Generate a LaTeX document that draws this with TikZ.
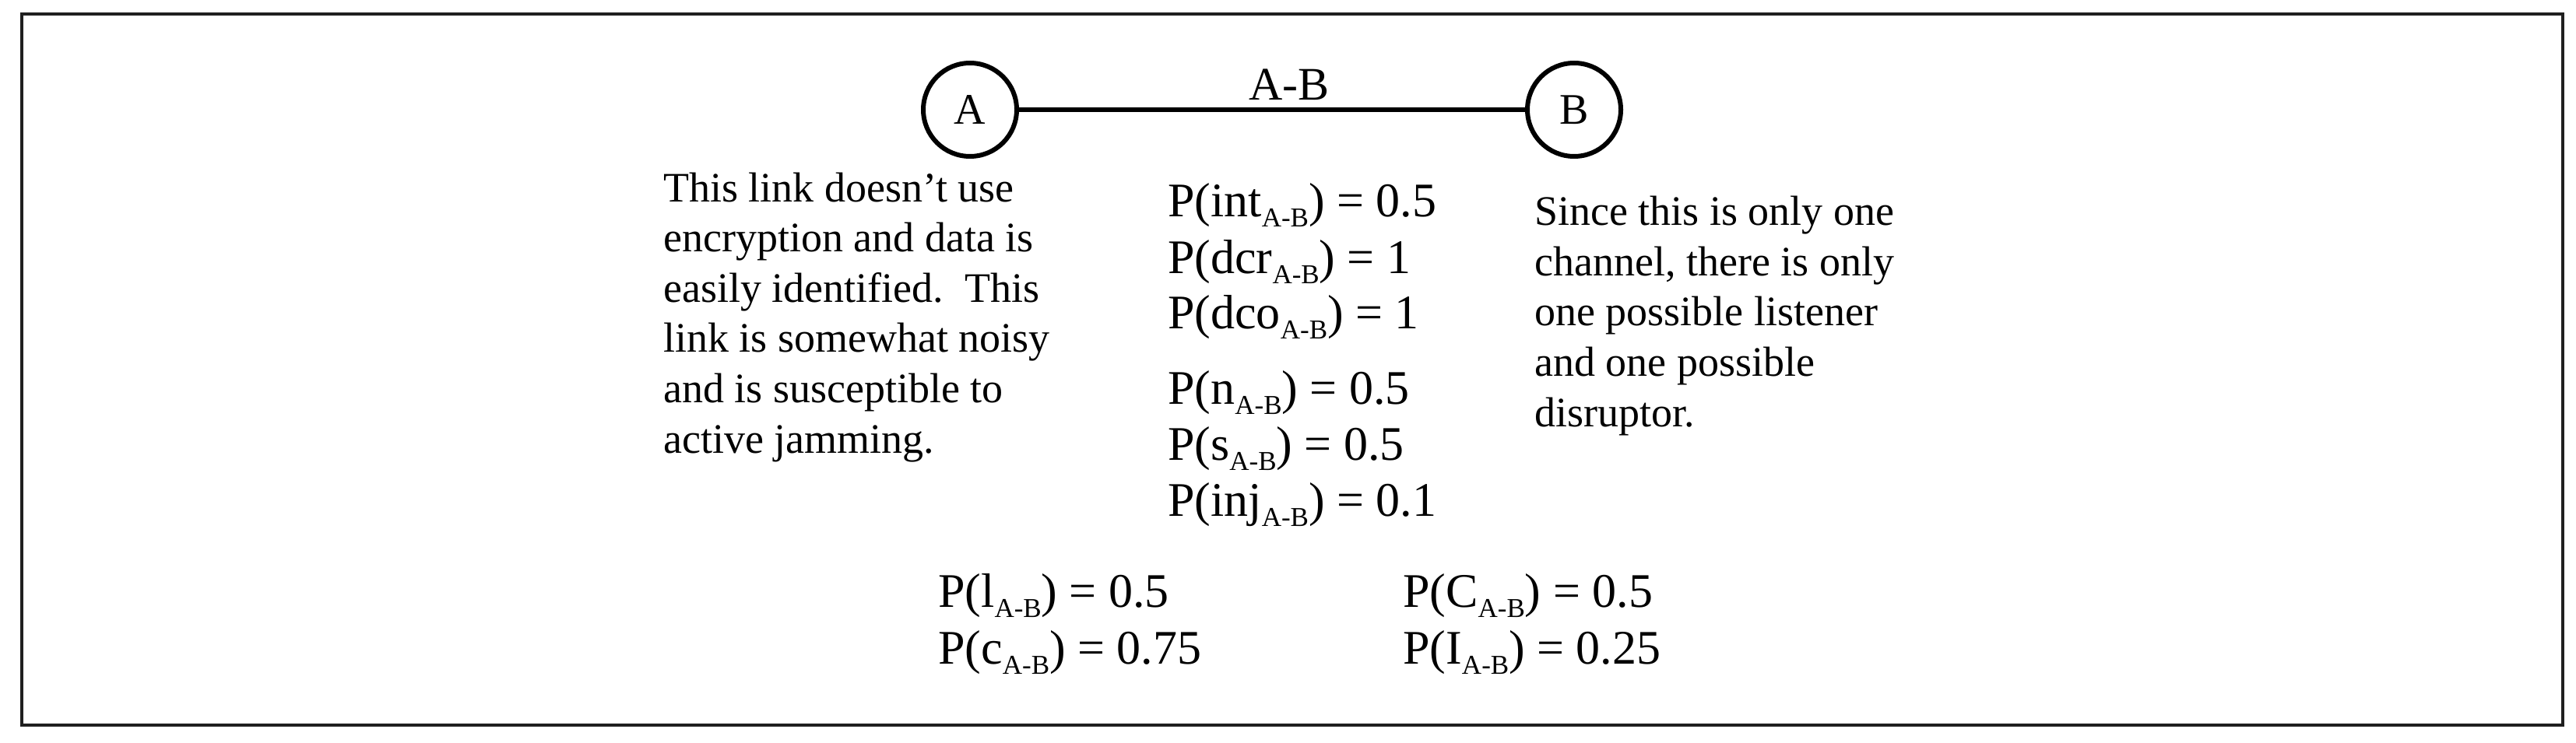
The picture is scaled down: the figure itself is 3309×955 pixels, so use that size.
\documentclass[tikz,border=0pt]{standalone}
\usepackage{fontspec}
\setmainfont{Liberation Serif}
\newcommand{\absub}{\raisebox{-13pt}{\fontsize{35}{35}\selectfont A-B}}
\begin{document}
\begin{tikzpicture}[x=1pt,y=-1pt,
  vertex/.style={circle,draw,line width=6pt,minimum size=120pt,inner sep=0pt,font=\fontsize{56}{56}\selectfont},
  para/.style={anchor=base west,inner sep=0pt,align=left,font=\fontsize{54}{64.6}\selectfont},
  formula/.style={anchor=base west,inner sep=0pt,font=\fontsize{62}{62}\selectfont},
  frame/.style={draw=black!88,line width=4pt}]
\useasboundingbox (0,0) rectangle (3309,955);
\draw[frame] (28,18) rectangle (3292,932);
\node[vertex] (A) at (1246,141) {A};
\node[vertex] (B) at (2022,141) {B};
\draw[line width=6pt] (A) -- node[above=6pt,xshift=22pt,font=\fontsize{60}{60}\selectfont] (ab) {A-B} (B);
\node[para] (left) at (852,582) {This link doesn’t use\\encryption and data is\\easily identified.\ \ This\\link is somewhat noisy\\and is susceptible to\\active jamming.};
\node[para] (right) at (1971,548) {Since this is only one\\channel, there is only\\one possible listener\\and one possible\\disruptor.};
\node[formula] (f1) at (1500,278) {P(int\absub) = 0.5};
\node[formula] (f2) at (1500,351) {P(dcr\absub) = 1};
\node[formula] (f3) at (1500,422) {P(dco\absub) = 1};
\node[formula] (f4) at (1500,519) {P(n\absub) = 0.5};
\node[formula] (f5) at (1500,591) {P(s\absub) = 0.5};
\node[formula] (f6) at (1500,663) {P(inj\absub) = 0.1};
\node[formula] (g1) at (1205,780) {P(l\absub) = 0.5};
\node[formula] (g2) at (1205,853) {P(c\absub) = 0.75};
\node[formula] (h1) at (1802,780) {P(C\absub) = 0.5};
\node[formula] (h2) at (1802,853) {P(I\absub) = 0.25};
\end{tikzpicture}
\end{document}
